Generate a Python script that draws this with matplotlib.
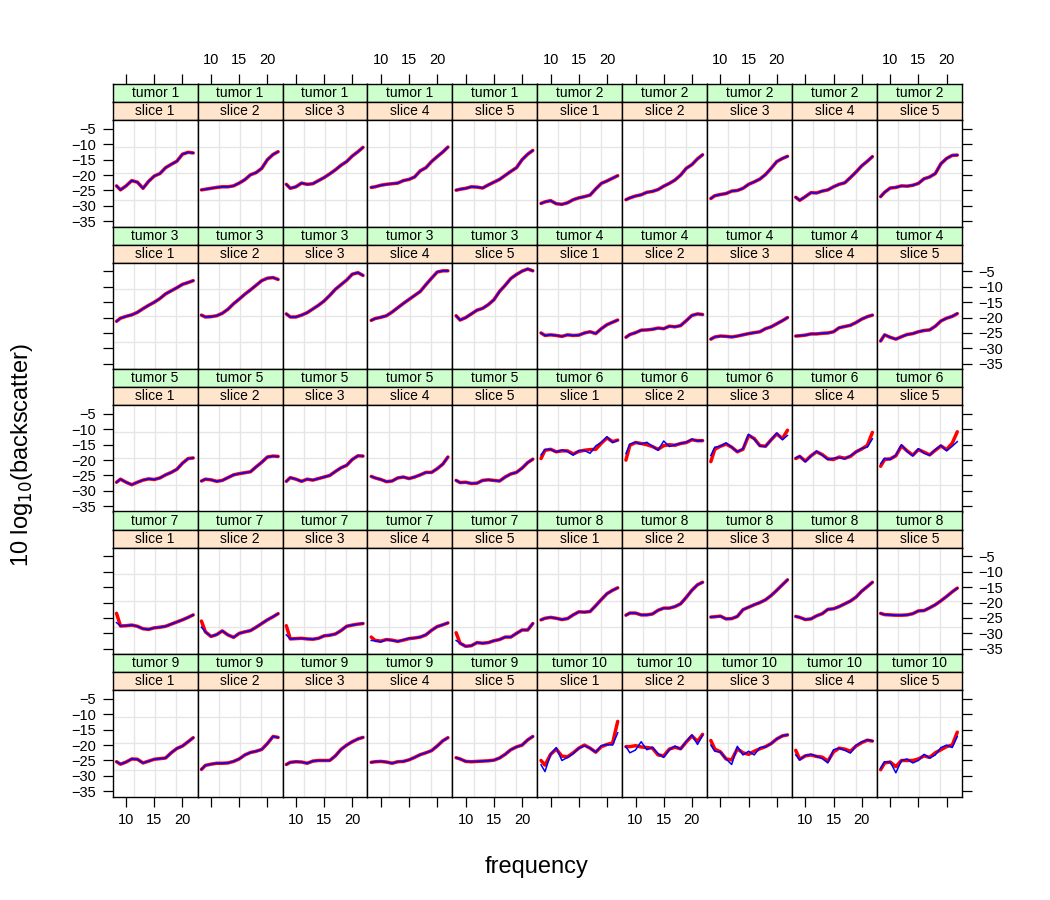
import numpy as np
import matplotlib.pyplot as plt

plt.rcParams['font.family'] = ['Liberation Sans', 'DejaVu Sans']

# frequency grid the curves were read at
freq = [8.3, 9, 10, 11, 12, 13, 14, 15, 16, 17, 18, 19, 20, 21, 21.9]

tumor_names = ['tumor %d' % i for i in range(1, 11)]
slice_names = ['slice %d' % i for i in range(1, 6)]

# red (thick) curves, one list per slice
fit_t1 = [
    [-23.5, -24.8, -23.5, -21.8, -22.3, -24.3, -22.0, -20.3, -19.5, -17.6, -16.5, -15.5, -13.2, -12.6, -12.8],
    [-24.8, -24.6, -24.3, -24.0, -23.8, -23.8, -23.5, -22.6, -21.5, -19.9, -19.2, -17.8, -15.0, -13.3, -12.4],
    [-23.0, -24.3, -23.8, -22.6, -23.0, -22.8, -21.8, -20.8, -19.6, -18.3, -16.8, -15.6, -13.8, -12.4, -11.0],
    [-24.0, -23.8, -23.3, -23.0, -22.8, -22.6, -21.8, -21.4, -20.6, -18.6, -17.6, -15.6, -14.0, -12.5, -10.9],
    [-24.9, -24.6, -24.3, -23.8, -23.9, -24.2, -23.2, -22.3, -21.4, -20.1, -18.8, -17.6, -15.0, -13.2, -12.0],
]
fit_t2 = [
    [-29.2, -28.7, -28.3, -29.3, -29.5, -29.0, -28.0, -27.4, -27.0, -26.5, -24.5, -22.7, -21.9, -21.0, -20.2],
    [-28.0, -27.4, -26.8, -26.4, -25.6, -25.3, -24.7, -23.6, -22.7, -21.6, -20.0, -17.8, -16.6, -14.7, -13.4],
    [-27.6, -26.7, -26.3, -26.0, -25.2, -25.0, -24.3, -23.0, -22.2, -21.3, -19.8, -17.8, -15.6, -14.6, -13.9],
    [-27.2, -28.2, -27.0, -25.7, -25.8, -25.2, -24.8, -23.8, -23.0, -22.5, -20.8, -19.0, -17.0, -15.5, -14.0],
    [-27.0, -25.6, -24.2, -24.0, -23.5, -23.6, -23.3, -22.7, -21.2, -20.6, -19.5, -16.3, -14.6, -13.6, -13.5],
]
fit_t3 = [
    [-21.2, -20.2, -19.6, -19.1, -18.3, -17.1, -16.0, -15.0, -13.8, -12.3, -11.3, -10.3, -9.2, -8.6, -8.0],
    [-19.2, -19.8, -19.7, -19.4, -18.6, -17.3, -15.5, -14.0, -12.4, -11.0, -9.5, -8.0, -7.2, -7.0, -7.6],
    [-18.8, -19.8, -19.8, -19.2, -18.4, -17.2, -16.0, -14.6, -12.8, -10.8, -9.3, -7.8, -5.9, -5.4, -6.3],
    [-20.9, -20.3, -19.9, -19.4, -18.2, -16.8, -15.4, -14.1, -12.8, -11.5, -9.3, -7.2, -5.2, -4.8, -4.8],
    [-19.4, -20.8, -20.0, -18.8, -17.6, -17.0, -15.8, -14.2, -11.5, -9.5, -7.3, -6.0, -4.9, -4.2, -4.8],
]
fit_t4 = [
    [-25.0, -25.8, -25.6, -25.8, -26.1, -25.6, -25.8, -25.7, -25.0, -24.6, -25.2, -23.6, -22.3, -21.5, -20.8],
    [-26.4, -25.5, -24.9, -24.1, -24.0, -23.8, -23.4, -23.6, -22.8, -23.0, -22.6, -21.0, -19.3, -18.8, -19.0],
    [-27.0, -26.3, -26.0, -26.1, -26.3, -26.0, -25.6, -25.2, -24.9, -24.6, -23.6, -23.0, -22.0, -21.0, -20.0],
    [-26.0, -25.9, -25.7, -25.3, -25.3, -25.1, -25.0, -24.6, -23.3, -22.9, -22.5, -21.6, -20.5, -19.7, -19.2],
    [-27.6, -25.6, -26.4, -27.0, -26.2, -25.5, -25.2, -24.6, -24.2, -24.0, -22.8, -21.1, -20.2, -19.6, -18.7],
]
fit_t5 = [
    [-27.2, -26.2, -27.2, -28.0, -27.2, -26.5, -26.1, -26.3, -25.8, -24.8, -24.0, -23.0, -21.0, -19.5, -19.3],
    [-26.8, -26.2, -26.4, -26.9, -26.6, -25.7, -24.8, -24.4, -24.1, -23.8, -22.2, -20.7, -19.0, -18.7, -18.8],
    [-26.9, -25.7, -26.2, -26.9, -26.2, -26.5, -26.0, -25.5, -25.0, -23.7, -22.5, -21.7, -19.8, -18.6, -18.7],
    [-25.3, -25.8, -26.3, -27.0, -26.8, -25.8, -25.5, -26.0, -25.5, -24.8, -24.0, -24.0, -22.8, -21.3, -19.0],
    [-26.6, -27.3, -27.2, -27.6, -27.5, -26.6, -26.4, -26.6, -26.8, -25.5, -24.5, -24.0, -22.6, -20.8, -19.7],
]
fit_t6 = [
    [-19.5, -16.8, -16.5, -17.3, -17.0, -17.0, -18.0, -17.2, -16.8, -16.6, -16.5, -14.5, -12.8, -14.0, -13.5],
    [-20.0, -15.2, -14.3, -14.6, -15.0, -15.6, -16.5, -15.3, -15.0, -15.2, -14.6, -14.3, -13.4, -13.7, -13.7],
    [-20.5, -16.5, -15.5, -14.8, -15.8, -17.3, -16.5, -12.0, -13.0, -15.3, -15.5, -13.4, -11.5, -13.0, -10.3],
    [-19.5, -18.8, -20.3, -18.6, -17.3, -18.2, -19.6, -19.8, -19.0, -19.4, -18.8, -17.3, -16.4, -15.2, -11.0],
    [-22.0, -19.8, -19.6, -18.6, -15.4, -17.0, -18.4, -16.6, -17.4, -18.3, -16.8, -15.4, -16.6, -14.5, -10.8],
]
fit_t7 = [
    [-23.5, -27.6, -27.5, -27.3, -27.7, -28.5, -28.7, -28.2, -28.0, -27.7, -27.0, -26.3, -25.6, -24.8, -24.0],
    [-26.0, -29.5, -31.0, -30.4, -29.2, -30.5, -31.3, -30.0, -29.5, -29.1, -28.0, -26.8, -25.6, -24.6, -23.6],
    [-27.5, -31.8, -31.7, -31.6, -31.8, -31.9, -31.6, -30.8, -30.6, -30.2, -29.1, -27.7, -27.3, -27.0, -26.8],
    [-31.2, -32.3, -32.5, -32.0, -32.2, -32.6, -32.2, -31.7, -31.5, -31.2, -30.5, -29.0, -27.8, -27.2, -26.6],
    [-29.8, -33.2, -34.2, -34.0, -33.0, -33.2, -33.0, -32.4, -32.0, -31.2, -31.2, -30.0, -28.9, -28.9, -26.8],
]
fit_t8 = [
    [-25.6, -25.1, -24.8, -25.1, -25.5, -25.2, -24.0, -23.0, -23.1, -22.9, -21.0, -19.0, -17.1, -16.0, -15.2],
    [-24.1, -23.4, -23.4, -24.0, -24.0, -23.7, -22.5, -21.8, -21.8, -21.3, -20.4, -18.3, -16.0, -14.2, -13.4],
    [-24.7, -24.6, -24.4, -25.3, -25.2, -24.5, -22.3, -21.5, -20.7, -20.0, -19.1, -17.7, -16.0, -14.2, -12.6],
    [-24.5, -24.8, -25.5, -25.3, -24.3, -23.6, -22.2, -22.0, -21.3, -20.4, -19.5, -18.2, -16.3, -14.8, -13.4],
    [-23.5, -23.9, -24.0, -24.1, -24.1, -24.0, -23.6, -22.7, -22.6, -21.7, -20.7, -19.4, -18.0, -16.5, -15.3],
]
fit_t9 = [
    [-25.4, -26.2, -25.5, -24.5, -24.6, -25.8, -25.2, -24.6, -24.4, -24.2, -22.5, -21.1, -20.3, -18.9, -17.6],
    [-27.9, -26.6, -26.2, -25.9, -25.9, -25.8, -25.3, -24.5, -23.2, -22.4, -22.0, -21.4, -19.5, -17.2, -17.5],
    [-26.3, -25.6, -25.4, -25.5, -25.9, -25.2, -25.0, -25.0, -25.0, -23.5, -21.4, -20.0, -18.9, -18.0, -17.5],
    [-25.6, -25.4, -25.3, -25.5, -25.9, -25.4, -25.3, -24.8, -24.0, -23.1, -22.5, -21.8, -20.3, -18.6, -17.6],
    [-24.1, -24.5, -25.3, -25.4, -25.3, -25.2, -25.1, -24.9, -24.2, -23.0, -21.5, -20.6, -20.0, -18.3, -17.2],
]
fit_t10 = [
    [-25.0, -26.5, -23.0, -21.3, -23.6, -23.8, -22.5, -21.0, -20.0, -21.0, -22.3, -20.5, -19.8, -19.3, -12.3],
    [-20.5, -20.5, -20.2, -20.6, -20.8, -21.0, -23.2, -23.5, -21.3, -20.7, -21.2, -19.0, -17.0, -18.8, -16.5],
    [-18.5, -21.3, -22.2, -24.5, -24.8, -21.2, -22.5, -23.0, -22.0, -21.2, -20.5, -19.5, -18.0, -17.0, -16.7],
    [-21.7, -24.6, -23.5, -23.2, -23.7, -23.9, -25.2, -22.2, -21.0, -21.3, -22.0, -20.3, -19.2, -18.4, -18.7],
    [-28.0, -25.8, -25.5, -27.0, -25.0, -25.0, -25.0, -24.5, -23.5, -24.0, -22.5, -21.5, -20.5, -20.0, -15.8],
]

# blue (thin) curves where they part from the red ones
raw_t6 = [
    [-18.3, -16.6, -16.5, -17.4, -16.7, -17.2, -18.4, -16.9, -16.9, -17.8, -15.4, -14.2, -12.4, -14.3, -13.6],
    [-17.9, -14.8, -14.2, -14.8, -14.2, -15.5, -16.8, -13.8, -15.6, -15.0, -14.6, -14.2, -13.2, -13.8, -13.6],
    [-18.5, -15.8, -15.5, -14.4, -15.8, -17.3, -16.3, -11.6, -13.2, -15.4, -15.6, -13.4, -11.2, -13.4, -12.0],
    [-19.3, -18.7, -20.6, -18.7, -17.1, -18.4, -19.8, -19.4, -19.2, -19.6, -18.6, -17.4, -16.2, -15.8, -13.1],
    [-21.2, -19.4, -19.8, -18.4, -15.0, -17.2, -18.6, -16.3, -17.8, -18.4, -16.6, -15.2, -17.0, -15.5, -14.0],
]
raw_t7 = [
    [-26.5] + fit_t7[0][1:],
    [-28.0] + fit_t7[1][1:],
    [-30.5] + fit_t7[2][1:],
    [-32.3, -32.4, -32.8, -32.0, -32.3, -32.6, -32.1, -31.6, -31.5, -31.2, -30.4, -29.0, -27.8, -27.2, -26.6],
    [-32.3] + fit_t7[4][1:],
]
raw_t10 = [
    [-26.4, -28.6, -23.0, -20.8, -25.0, -24.0, -22.8, -21.0, -20.2, -21.0, -22.3, -20.2, -19.8, -20.0, -16.0],
    [-20.5, -22.5, -21.6, -18.9, -21.5, -20.7, -22.8, -24.0, -21.5, -20.3, -21.3, -18.8, -16.7, -19.8, -16.8],
    [-20.0, -22.0, -22.3, -24.5, -26.3, -20.4, -23.2, -22.0, -23.2, -20.8, -20.6, -19.5, -18.0, -17.0, -16.6],
    [-23.2, -24.8, -23.4, -23.0, -23.6, -24.4, -25.8, -21.5, -21.0, -21.7, -22.6, -20.1, -19.0, -18.3, -18.6],
    [-27.5, -25.4, -25.5, -29.0, -25.0, -24.5, -25.8, -25.0, -23.0, -24.2, -23.2, -20.8, -20.0, -20.8, -17.2],
]

fits = [fit_t1, fit_t2, fit_t3, fit_t4, fit_t5, fit_t6, fit_t7, fit_t8, fit_t9, fit_t10]
raws = [fit_t1, fit_t2, fit_t3, fit_t4, fit_t5, raw_t6, raw_t7, fit_t8, fit_t9, raw_t10]

W, H = 1050, 900
left0, top0 = 112.7, 84.0
col_w, row_h, strip_h = 84.9, 142.5, 18.0
xlim = (7.62, 22.68)
ylim = (-36.7, -2.1)
xt = [10, 15, 20]
yt = [-5, -10, -15, -20, -25, -30, -35]


def box(x, y, w, h):
    return [x / W, 1 - (y + h) / H, w / W, h / H]


fig = plt.figure(figsize=(W / 100, H / 100), dpi=100)

for t in range(10):
    for s in range(5):
        k = t * 5 + s
        r, c = k // 10, k % 10
        x0 = left0 + c * col_w
        y0 = top0 + r * row_h

        # strips: tumor on top (green), slice below (peach)
        for j, (txt, col) in enumerate([(tumor_names[t], '#CCFFCC'),
                                        (slice_names[s], '#FFE5CC')]):
            sa = fig.add_axes(box(x0, y0 + j * strip_h, col_w, strip_h))
            sa.set_facecolor(col)
            sa.set_xlim(xlim)
            sa.set_yticks([])
            for sp in sa.spines.values():
                sp.set_linewidth(1.0)
            sa.text(0.5, 0.48, txt, transform=sa.transAxes, ha='center',
                    va='center', fontsize=10)
            if j == 0 and r == 0:
                sa.set_xticks(xt)
                sa.tick_params(axis='x', direction='out', length=7, width=0.9,
                               top=True, bottom=False, labelbottom=False,
                               labeltop=(c % 2 == 1), labelsize=10.5, pad=5)
            else:
                sa.set_xticks([])

        ax = fig.add_axes(box(x0, y0 + 2 * strip_h, col_w, row_h - 2 * strip_h))
        ax.set_xlim(xlim)
        ax.set_ylim(ylim)
        for v in np.linspace(xlim[0], xlim[1], 5)[1:4]:
            ax.axvline(v, color='#E6E6E6', lw=1, zorder=0)
        for v in np.linspace(ylim[0], ylim[1], 5)[1:4]:
            ax.axhline(v, color='#E6E6E6', lw=1, zorder=0)
        ax.plot(freq, fits[t][s], color='#FF0000', lw=2.5, zorder=2,
                solid_capstyle='round')
        ax.plot(freq, raws[t][s], color='#0000FF', lw=1.1, zorder=3)
        ax.set_xticks(xt)
        ax.set_yticks(yt)
        ax.tick_params(direction='out', length=7, width=0.9, labelsize=10.5,
                       pad=5, top=False, bottom=(r == 4),
                       labelbottom=(r == 4 and c % 2 == 0),
                       left=(c == 0), labelleft=(c == 0 and r % 2 == 0),
                       right=(c == 9), labelright=(c == 9 and r % 2 == 1))
        for sp in ax.spines.values():
            sp.set_linewidth(1.0)

fig.text(537 / W, 1 - 867 / H, 'frequency', ha='center', va='center',
         fontsize=17)
fig.text(22 / W, 1 - 455 / H, r'10 log$_{10}$(backscatter)', ha='center',
         va='center', rotation=90, fontsize=17)

fig.savefig('out.png', dpi=100)
